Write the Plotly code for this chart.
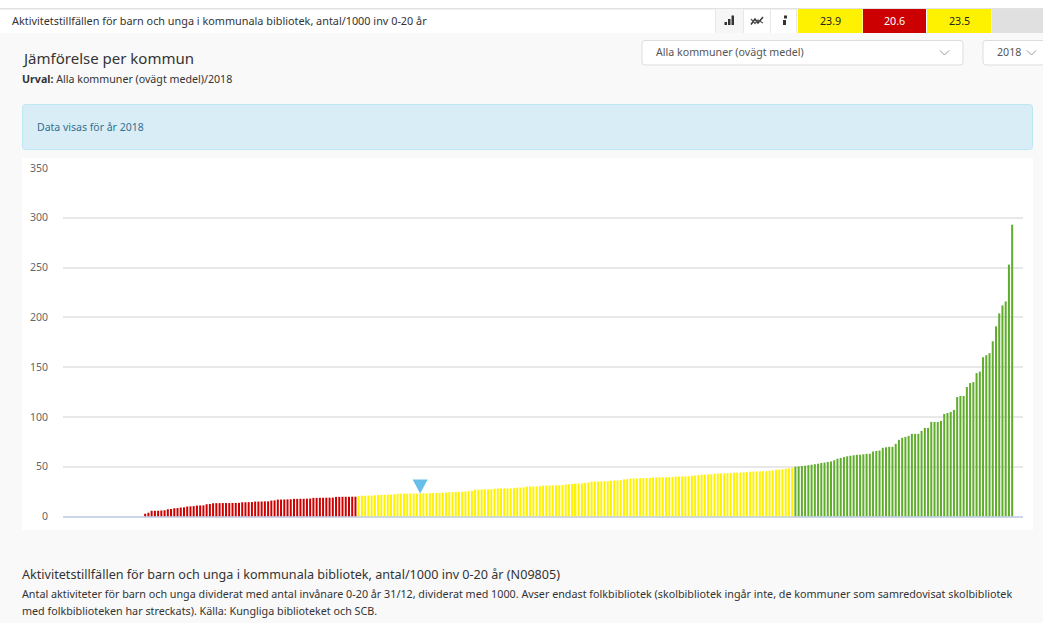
import plotly.graph_objects as go

W, H = 1043, 623
FONT = "Noto Sans"

# Values, sorted ascending per colour group
empty_count = 25
red_values = [2.7,3.7,5.7,5.8,5.9,6,6.2,7.3,7.5,8.3,8.5,9,9.2,10,10.2,10.4,11,11.1,11.2,12.3,12.5,13.3,13.4,13.4,13.5,13.5,13.5,13.6,13.6,13.7,14.3,14.3,14.4,14.5,15,15,15.1,15.2,15.2,16,16.2,17,17,17.1,17.2,17.3,17.7,17.7,17.8,17.8,17.9,18,18.7,18.7,18.8,18.8,18.9,18.9,19,19.7,19.7,19.8,19.8,19.8,19.9,19.9]
yellow_values = [20.6,20.8,20.9,21,21,21.2,21.6,21.8,21.8,22,22,22.2,22.8,22.9,23,23,23,23,23,23.2,23.3,23.3,23.4,23.6,23.7,23.8,23.9,24,24.4,24.5,24.6,24.7,24.8,25.2,25.4,25.8,27,27,27.2,27.2,27.3,27.4,28,28,28.1,28.2,28.2,28.3,28.4,29,29.1,29.2,30,30,30.1,30.2,30.3,31,31,31.1,31.2,31.3,31.4,31.5,32.2,32.4,32.6,33,33.1,33.3,33.8,34.2,35,35.1,35.2,35.3,35.4,35.5,36,36.2,36.3,36.5,37.2,37.5,38.1,38.2,38.3,38.4,38.5,38.6,38.7,39.1,39.2,39.3,39.4,39.4,39.5,39.6,40.1,40.2,40.2,40.3,40.4,41,41.2,41.4,42,42.1,42.2,42.4,43,43.1,43.2,43.3,43.4,43.5,44,44.1,44.2,44.3,44.4,45,45.1,45.2,45.3,45.4,45.5,46,46.3,47,47.1,47.3,48,48.3,49]
green_values = [50,50.3,50.7,51,51.5,52,52.5,53,53.7,54.2,54.8,55.3,56.5,58,58.8,59.7,60.5,61,61.5,62,62,62.5,63,63,65.3,65.8,66.3,69,69.5,70,70,73,77,79,80,81,83,83,83,86,89,89,95,95,95,96,103,104,105,107,120,121,121,130,134,135,144,145.5,160,162,164,176,191,204,212,216,253,293]
selected_value = 23.2
y_ticks = [0, 50, 100, 150, 200, 250, 300, 350]
kpi_labels = ["23.9", "20.6", "23.5"]
title_strip = "Aktivitetstillfällen för barn och unga i kommunala bibliotek, antal/1000 inv 0-20 år"
heading = "Jämförelse per kommun"
selection = "<b>Urval:</b> Alla kommuner (ovägt medel)/2018"
info_text = "Data visas för år 2018"
dropdown_a = "Alla kommuner (ovägt medel)"
dropdown_b = "2018"
foot_title = "Aktivitetstillfällen för barn och unga i kommunala bibliotek, antal/1000 inv 0-20 år (N09805)"
foot_line1 = "Antal aktiviteter för barn och unga dividerat med antal invånare 0-20 år 31/12, dividerat med 1000. Avser endast folkbibliotek (skolbibliotek ingår inte, de kommuner som samredovisat skolbibliotek"
foot_line2 = "med folkbiblioteken har streckats). Källa: Kungliga biblioteket och SCB."

values = [0.0] * empty_count + red_values + yellow_values + green_values
colors = (["#cc0000"] * (empty_count + len(red_values))
          + ["#fff200"] * len(yellow_values)
          + ["#5fad2b"] * len(green_values))
xs = list(range(len(values)))


def px(x):
    return x / W


def py(y):
    return 1 - y / H


shapes = []


def rect(x0, y0, x1, y1, fill, line=None, lw=1, layer="below"):
    shapes.append(dict(type="rect", xref="paper", yref="paper", x0=px(x0), x1=px(x1),
                       y0=py(y1), y1=py(y0), fillcolor=fill, layer=layer,
                       line=dict(color=line or fill, width=lw if line else 0)))


def rrect(x0, y0, x1, y1, r, fill, line):
    p = (f"M{px(x0+r)},{py(y0)} L{px(x1-r)},{py(y0)} Q{px(x1)},{py(y0)} {px(x1)},{py(y0+r)} "
         f"L{px(x1)},{py(y1-r)} Q{px(x1)},{py(y1)} {px(x1-r)},{py(y1)} L{px(x0+r)},{py(y1)} "
         f"Q{px(x0)},{py(y1)} {px(x0)},{py(y1-r)} L{px(x0)},{py(y0+r)} Q{px(x0)},{py(y0)} {px(x0+r)},{py(y0)} Z")
    shapes.append(dict(type="path", xref="paper", yref="paper", path=p, fillcolor=fill,
                       layer="below", line=dict(color=line, width=1)))


def poly(points, color, width=1.0, fill=None):
    p = "M" + " L".join(f"{px(a)},{py(b)}" for a, b in points)
    if fill:
        p += " Z"
    shapes.append(dict(type="path", xref="paper", yref="paper", path=p, layer="above",
                       fillcolor=fill or "rgba(0,0,0,0)", line=dict(color=color, width=width)))


# page regions
rect(0, 0, W, 9, "#ffffff")
rect(0, 33, W, H, "#f9f9f9")
rect(0, 9, W, 33, "#ffffff")
rect(0, 8, W, 9.5, "#e2e2e2")
rect(715, 9, 743, 33, "#f6f6f6")
for sx in (715, 743, 770, 796):
    rect(sx, 9, sx + 1, 33, "#e8e8e8")
rect(798, 9, 862.5, 33, "#fff200")
rect(863, 9, 926, 33, "#cc0000")
rect(927, 9, 991, 33, "#fff200")
rect(991.5, 9, W, 33, "#e0e0e0")
rrect(642, 40.5, 963, 65, 3, "#ffffff", "#dddddd")
rrect(983, 40.5, 1050, 65, 3, "#ffffff", "#dddddd")
rrect(22.5, 104.5, 1032.5, 149.5, 3, "#d9edf7", "#bce8f1")
rect(22, 158, 1033, 530, "#ffffff")

# icons and chevrons
rect(724.5, 22, 727, 25, "#333333", layer="above")
rect(728, 19, 730.5, 25, "#333333", layer="above")
rect(731.5, 15.5, 734, 25, "#333333", layer="above")
poly([(751, 24.5), (755, 19), (758, 23), (763, 17)], "#333333", 1.4)
poly([(751, 19), (755, 23.5), (758, 20), (763, 23)], "#555555", 1.2)
rect(783, 20, 786, 25, "#333333", layer="above")
rect(784, 15.5, 787, 18.5, "#333333", layer="above")
poly([(940, 50.5), (944.5, 55), (949, 50.5)], "#999999")
poly([(1027, 50.5), (1031.5, 55), (1036, 50.5)], "#999999")


def label(x, y, text, size=10.7, color="#333333", anchor="left"):
    return dict(xref="paper", yref="paper", x=px(x), y=py(y), text=text, showarrow=False,
                xanchor=anchor, yanchor="middle", align=anchor, borderpad=0, borderwidth=0,
                font=dict(family=FONT, size=size, color=color))


annotations = [
    label(12, 21, title_strip, 10.85),
    label(22, 58, heading, 15),
    label(22, 79, selection, 10.65),
    label(37, 127, info_text, 10.5, "#31708f"),
    label(656, 52.5, dropdown_a, 10.65, "#555555"),
    label(997, 52.5, dropdown_b, 10.65, "#555555"),
    label(830, 21, kpi_labels[0], 10.7, "#222222", "center"),
    label(894.5, 21, kpi_labels[1], 10.7, "#ffffff", "center"),
    label(959, 21, kpi_labels[2], 10.7, "#222222", "center"),
    label(22, 574, foot_title, 12.6),
    label(22, 593, foot_line1, 10.76),
    label(22, 610, foot_line2, 10.76),
]

# selected-municipality marker, anchored to data through pixel-sized shape
selected_index = empty_count + len(red_values) + yellow_values.index(selected_value)
shapes.append(dict(type="path", xref="x", yref="y", xsizemode="pixel", ysizemode="pixel",
                   xanchor=selected_index, yanchor=selected_value,
                   path="M-7.5,14 L7.5,14 L0,0 Z", fillcolor="#66bfe8", line=dict(width=0), layer="above"))

fig = go.Figure(go.Bar(x=xs, y=values, marker=dict(color=colors, line=dict(width=0)), width=0.62,
                       hoverinfo="skip"))
fig.update_layout(
    width=W, height=H, margin=dict(l=0, r=0, t=0, b=0), autosize=False, showlegend=False,
    paper_bgcolor="#ffffff", plot_bgcolor="rgba(0,0,0,0)", shapes=shapes, annotations=annotations,
    xaxis=dict(domain=[px(63), px(1023)], range=[-0.4, 296.35], visible=False, fixedrange=True, automargin=False),
    yaxis=dict(domain=[py(516.5), py(168)], range=[0, 350], tickvals=y_ticks, ticklabelstandoff=14, automargin=False,
               gridcolor="#e8e8e8", gridwidth=1.5, zeroline=True, zerolinecolor="#ccd6eb", zerolinewidth=1.5,
               showline=False, fixedrange=True, tickfont=dict(family=FONT, size=10.5, color="#666666")),
)
fig.write_html("out.html", config=dict(displayModeBar=False, responsive=False),
               default_width=f"{W}px", default_height=f"{H}px",
               post_script="document.documentElement.style.margin='0';document.body.style.margin='0';"
                           "document.body.style.padding='0';document.body.style.overflow='hidden';"
                           "var g=document.getElementById('{plot_id}');g.style.position='fixed';"
                           "g.style.left='0';g.style.top='0';")
